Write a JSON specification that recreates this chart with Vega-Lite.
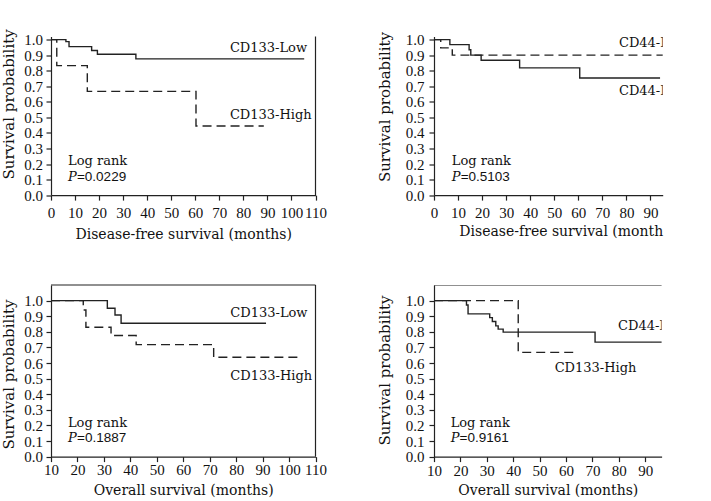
{
  "$schema": "https://vega.github.io/schema/vega-lite/v6.json",
  "background": "white",
  "padding": {"left": 0, "top": 28.5, "right": 5, "bottom": 5},
  "bounds": "flush",
  "columns": 2,
  "spacing": {"row": 89.5, "column": 118},
  "datasets": {
    "curves": [
      {"p":"TL","g":"Low","x":0,"y":1},{"p":"TL","g":"Low","x":6.2,"y":0.987},{"p":"TL","g":"Low","x":7.5,"y":0.955},{"p":"TL","g":"Low","x":16.9,"y":0.93},{"p":"TL","g":"Low","x":19.3,"y":0.906},{"p":"TL","g":"Low","x":35.3,"y":0.876},{"p":"TL","g":"Low","x":105.3,"y":0.876},
      {"p":"TL","g":"High","x":0,"y":1},{"p":"TL","g":"High","x":2.4,"y":0.833},{"p":"TL","g":"High","x":15.1,"y":0.667},{"p":"TL","g":"High","x":60.3,"y":0.444},{"p":"TL","g":"High","x":88.5,"y":0.444},
      {"p":"TR","g":"Low","x":0,"y":1},{"p":"TR","g":"Low","x":6.6,"y":0.968},{"p":"TR","g":"Low","x":14.6,"y":0.935},{"p":"TR","g":"Low","x":15.3,"y":0.9},{"p":"TR","g":"Low","x":19.6,"y":0.867},{"p":"TR","g":"Low","x":35.6,"y":0.818},{"p":"TR","g":"Low","x":60.6,"y":0.753},{"p":"TR","g":"Low","x":94.0,"y":0.753},
      {"p":"TR","g":"High","x":0,"y":1},{"p":"TR","g":"High","x":2.8,"y":0.947},{"p":"TR","g":"High","x":7.6,"y":0.9},{"p":"TR","g":"High","x":100,"y":0.9},
      {"p":"BL","g":"Low","x":10,"y":1},{"p":"BL","g":"Low","x":31.3,"y":0.951},{"p":"BL","g":"Low","x":34.2,"y":0.908},{"p":"BL","g":"Low","x":36.5,"y":0.855},{"p":"BL","g":"Low","x":91.3,"y":0.855},
      {"p":"BL","g":"High","x":10,"y":1},{"p":"BL","g":"High","x":22.2,"y":0.94},{"p":"BL","g":"High","x":23.2,"y":0.829},{"p":"BL","g":"High","x":32.7,"y":0.776},{"p":"BL","g":"High","x":42.2,"y":0.718},{"p":"BL","g":"High","x":71.5,"y":0.637},{"p":"BL","g":"High","x":105,"y":0.637},
      {"p":"BR","g":"Low","x":10,"y":1},{"p":"BR","g":"Low","x":22.3,"y":0.972},{"p":"BR","g":"Low","x":22.9,"y":0.915},{"p":"BR","g":"Low","x":31.1,"y":0.891},{"p":"BR","g":"Low","x":32.1,"y":0.866},{"p":"BR","g":"Low","x":33.4,"y":0.838},{"p":"BR","g":"Low","x":34.3,"y":0.817},{"p":"BR","g":"Low","x":36.2,"y":0.798},{"p":"BR","g":"Low","x":71.0,"y":0.734},{"p":"BR","g":"Low","x":100,"y":0.734},
      {"p":"BR","g":"High","x":10,"y":1},{"p":"BR","g":"High","x":41.9,"y":0.668},{"p":"BR","g":"High","x":63.9,"y":0.668}
    ],
    "frames": [
      {"p":"TL","x":110,"y":0,"x2":110,"y2":1.02},
      {"p":"BL","x":10,"y":1.1,"x2":110,"y2":1.1},
      {"p":"BL","x":110,"y":0,"x2":110,"y2":1.1},
      {"p":"BR","x":10,"y":1.1,"x2":100,"y2":1.1}
    ],
    "texts": [
      {"p":"TL","k":"lab","x":74.4,"y":0.945,"t":"CD133-Low"},
      {"p":"TL","k":"lab","x":74.4,"y":0.518,"t":"CD133-High"},
      {"p":"TL","k":"lab","x":7.1,"y":0.222,"t":"Log rank"},
      {"p":"TL","k":"pi","x":7.1,"y":0.119,"t":"P"},
      {"p":"TL","k":"pv","x":10.8,"y":0.119,"t":"=0.0229"},
      {"p":"TR","k":"lab","x":76.9,"y":0.977,"t":"CD44-High"},
      {"p":"TR","k":"lab","x":76.9,"y":0.672,"t":"CD44-Low"},
      {"p":"TR","k":"lab","x":7.4,"y":0.217,"t":"Log rank"},
      {"p":"TR","k":"pi","x":7.4,"y":0.119,"t":"P"},
      {"p":"TR","k":"pv","x":11.1,"y":0.119,"t":"=0.5103"},
      {"p":"BL","k":"lab","x":77.8,"y":0.921,"t":"CD133-Low"},
      {"p":"BL","k":"lab","x":77.8,"y":0.519,"t":"CD133-High"},
      {"p":"BL","k":"lab","x":16.4,"y":0.215,"t":"Log rank"},
      {"p":"BL","k":"pi","x":16.4,"y":0.122,"t":"P"},
      {"p":"BL","k":"pv","x":19.85,"y":0.122,"t":"=0.1887"},
      {"p":"BR","k":"lab","x":79.7,"y":0.838,"t":"CD44-Low"},
      {"p":"BR","k":"lab","x":55.7,"y":0.567,"t":"CD133-High"},
      {"p":"BR","k":"lab","x":16.3,"y":0.218,"t":"Log rank"},
      {"p":"BR","k":"pi","x":16.3,"y":0.122,"t":"P"},
      {"p":"BR","k":"pv","x":19.7,"y":0.122,"t":"=0.9161"}
    ]
  },
  "config": {
    "view": {"stroke": null},
    "axis": {"grid": false, "labelFont": "Liberation Serif", "labelFontSize": 15, "labelColor": "#111", "titleFont": "DejaVu Serif", "titleFontWeight": "normal", "titleColor": "#111", "domainColor": "#222", "tickColor": "#222", "tickSize": 5, "domainWidth": 1.2, "tickWidth": 1.2, "labelFlush": false, "labelOverlap": false},
    "axisX": {"titleFontSize": 14},
    "axisY": {"titleFontSize": 15},
    "text": {"color": "#111"}
  },
  "concat": [
    {
      "width": 264.5, "height": 158.6,
      "encoding": {
        "x": {"field":"x","type":"quantitative","scale":{"domain":[0,110],"nice":false,"zero":false},
              "axis":{"title":"Disease-free survival (months)","values":[0,10,20,30,40,50,60,70,80,90,100,110],"labelPadding":5.5,"titleY":32.6}},
        "y": {"field":"y","type":"quantitative","scale":{"domain":[0,1.02],"nice":false,"zero":false},
              "axis":{"title":"Survival probability","values":[0,0.1,0.2,0.3,0.4,0.5,0.6,0.7,0.8,0.9,1.0],"format":".1f","labelPadding":3.5,"titleX":-35,"titleY":67.4}}
      },
      "layer": [
        {"data":{"name":"curves"},"transform":[{"filter":"datum.p==='TL'"}],
         "mark":{"type":"line","interpolate":"step-after","color":"#222","strokeWidth":1.4},
         "encoding":{"strokeDash":{"field":"g","type":"nominal","scale":{"domain":["Low","High"],"range":[[1,0],[9,5]]},"legend":null}}},
        {"data":{"name":"frames"},"transform":[{"filter":"datum.p==='TL'"}],
         "mark":{"type":"rule","color":"#222","strokeWidth":1.2},
         "encoding":{"x2":{"field":"x2"},"y2":{"field":"y2"}}},
        {"data":{"name":"texts"},"transform":[{"filter":"datum.p==='TL' && datum.k==='lab'"}],
         "mark":{"type":"text","font":"DejaVu Serif","fontSize":13,"align":"left","baseline":"middle"},
         "encoding":{"text":{"field":"t"}}},
        {"data":{"name":"texts"},"transform":[{"filter":"datum.p==='TL' && datum.k==='pi'"}],
         "mark":{"type":"text","font":"DejaVu Serif","fontStyle":"italic","fontSize":13,"align":"left","baseline":"middle"},
         "encoding":{"text":{"field":"t"}}},
        {"data":{"name":"texts"},"transform":[{"filter":"datum.p==='TL' && datum.k==='pv'"}],
         "mark":{"type":"text","font":"Liberation Sans","fontSize":13.5,"align":"left","baseline":"middle"},
         "encoding":{"text":{"field":"t"}}}
      ]
    },
    {
      "width": 228.7, "height": 158.6,
      "encoding": {
        "x": {"field":"x","type":"quantitative","scale":{"domain":[0,95.1],"nice":false,"zero":false},
              "axis":{"title":"Disease-free survival (month","titleAnchor":"end","values":[0,10,20,30,40,50,60,70,80,90],"labelPadding":5.5,"titleY":29.7}},
        "y": {"field":"y","type":"quantitative","scale":{"domain":[0,1.02],"nice":false,"zero":false},
              "axis":{"title":"Survival probability","values":[0,0.1,0.2,0.3,0.4,0.5,0.6,0.7,0.8,0.9,1.0],"format":".1f","labelPadding":5,"titleX":-41.6,"titleY":70}}
      },
      "layer": [
        {"data":{"name":"curves"},"transform":[{"filter":"datum.p==='TR'"}],
         "mark":{"type":"line","interpolate":"step-after","color":"#222","strokeWidth":1.4,"clip":true},
         "encoding":{"strokeDash":{"field":"g","type":"nominal","scale":{"domain":["Low","High"],"range":[[1,0],[9,5]]},"legend":null}}},
        {"data":{"name":"texts"},"transform":[{"filter":"datum.p==='TR' && datum.k==='lab'"}],
         "mark":{"type":"text","font":"DejaVu Serif","fontSize":13,"align":"left","baseline":"middle","clip":true},
         "encoding":{"text":{"field":"t"}}},
        {"data":{"name":"texts"},"transform":[{"filter":"datum.p==='TR' && datum.k==='pi'"}],
         "mark":{"type":"text","font":"DejaVu Serif","fontStyle":"italic","fontSize":13,"align":"left","baseline":"middle"},
         "encoding":{"text":{"field":"t"}}},
        {"data":{"name":"texts"},"transform":[{"filter":"datum.p==='TR' && datum.k==='pv'"}],
         "mark":{"type":"text","font":"Liberation Sans","fontSize":13.5,"align":"left","baseline":"middle"},
         "encoding":{"text":{"field":"t"}}}
      ]
    },
    {
      "width": 264.5, "height": 171.6,
      "encoding": {
        "x": {"field":"x","type":"quantitative","scale":{"domain":[10,110],"nice":false,"zero":false},
              "axis":{"title":"Overall survival (months)","values":[10,20,30,40,50,60,70,80,90,100,110],"labelPadding":1,"titleY":26.5}},
        "y": {"field":"y","type":"quantitative","scale":{"domain":[0,1.1],"nice":false,"zero":false},
              "axis":{"title":"Survival probability","values":[0,0.1,0.2,0.3,0.4,0.5,0.6,0.7,0.8,0.9,1.0],"format":".1f","labelPadding":3.5,"titleX":-35,"titleY":89}}
      },
      "layer": [
        {"data":{"name":"curves"},"transform":[{"filter":"datum.p==='BL'"}],
         "mark":{"type":"line","interpolate":"step-after","color":"#222","strokeWidth":1.4},
         "encoding":{"strokeDash":{"field":"g","type":"nominal","scale":{"domain":["Low","High"],"range":[[1,0],[9,5]]},"legend":null}}},
        {"data":{"name":"frames"},"transform":[{"filter":"datum.p==='BL'"}],
         "mark":{"type":"rule","color":"#222","strokeWidth":1.2},
         "encoding":{"x2":{"field":"x2"},"y2":{"field":"y2"}}},
        {"data":{"name":"texts"},"transform":[{"filter":"datum.p==='BL' && datum.k==='lab'"}],
         "mark":{"type":"text","font":"DejaVu Serif","fontSize":13,"align":"left","baseline":"middle"},
         "encoding":{"text":{"field":"t"}}},
        {"data":{"name":"texts"},"transform":[{"filter":"datum.p==='BL' && datum.k==='pi'"}],
         "mark":{"type":"text","font":"DejaVu Serif","fontStyle":"italic","fontSize":13,"align":"left","baseline":"middle"},
         "encoding":{"text":{"field":"t"}}},
        {"data":{"name":"texts"},"transform":[{"filter":"datum.p==='BL' && datum.k==='pv'"}],
         "mark":{"type":"text","font":"Liberation Sans","fontSize":13.5,"align":"left","baseline":"middle"},
         "encoding":{"text":{"field":"t"}}}
      ]
    },
    {
      "width": 227.6, "height": 171.6,
      "encoding": {
        "x": {"field":"x","type":"quantitative","scale":{"domain":[10,96.2],"nice":false,"zero":false},
              "axis":{"title":"Overall survival (months)","values":[10,20,30,40,50,60,70,80,90],"labelPadding":2,"titleY":26.5}},
        "y": {"field":"y","type":"quantitative","scale":{"domain":[0,1.1],"nice":false,"zero":false},
              "axis":{"title":"Survival probability","values":[0,0.1,0.2,0.3,0.4,0.5,0.6,0.7,0.8,0.9,1.0],"format":".1f","labelPadding":5,"titleX":-41.6,"titleY":85}}
      },
      "layer": [
        {"data":{"name":"curves"},"transform":[{"filter":"datum.p==='BR'"}],
         "mark":{"type":"line","interpolate":"step-after","color":"#222","strokeWidth":1.4,"clip":true},
         "encoding":{"strokeDash":{"field":"g","type":"nominal","scale":{"domain":["Low","High"],"range":[[1,0],[9,5]]},"legend":null}}},
        {"data":{"name":"frames"},"transform":[{"filter":"datum.p==='BR'"}],
         "mark":{"type":"rule","color":"#222","strokeWidth":1.2,"clip":true},
         "encoding":{"x2":{"field":"x2"},"y2":{"field":"y2"}}},
        {"data":{"name":"texts"},"transform":[{"filter":"datum.p==='BR' && datum.k==='lab'"}],
         "mark":{"type":"text","font":"DejaVu Serif","fontSize":13,"align":"left","baseline":"middle","clip":true},
         "encoding":{"text":{"field":"t"}}},
        {"data":{"name":"texts"},"transform":[{"filter":"datum.p==='BR' && datum.k==='pi'"}],
         "mark":{"type":"text","font":"DejaVu Serif","fontStyle":"italic","fontSize":13,"align":"left","baseline":"middle"},
         "encoding":{"text":{"field":"t"}}},
        {"data":{"name":"texts"},"transform":[{"filter":"datum.p==='BR' && datum.k==='pv'"}],
         "mark":{"type":"text","font":"Liberation Sans","fontSize":13.5,"align":"left","baseline":"middle"},
         "encoding":{"text":{"field":"t"}}}
      ]
    }
  ]
}
